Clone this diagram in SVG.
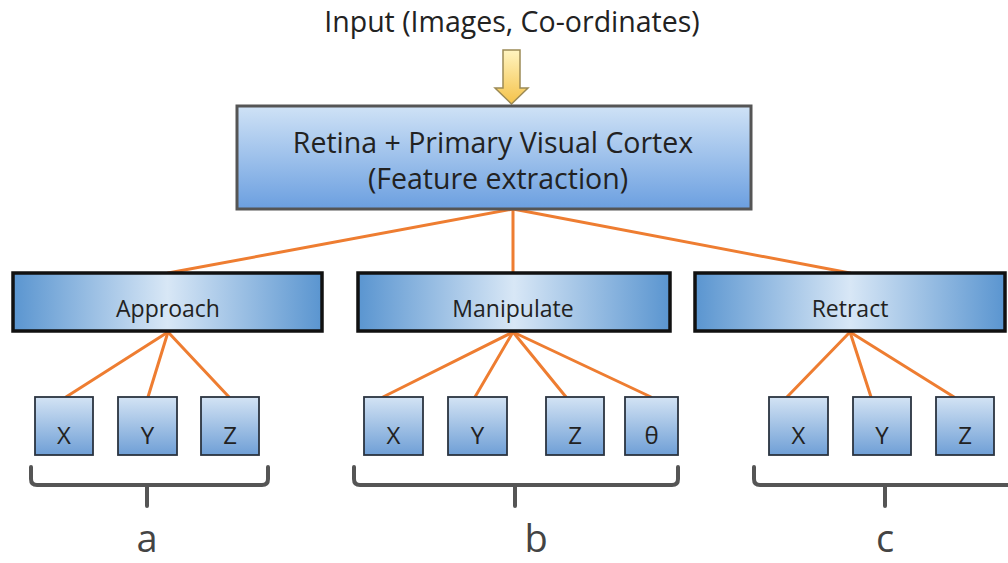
<svg xmlns="http://www.w3.org/2000/svg" width="1008" height="563" viewBox="0 0 1008 563">
<defs>
<linearGradient id="gTop" x1="0" y1="0" x2="0" y2="1">
<stop offset="0" stop-color="#cfe2f6"/><stop offset="1" stop-color="#6b9fe0"/>
</linearGradient>
<linearGradient id="gMid" x1="0" y1="0" x2="1" y2="0">
<stop offset="0" stop-color="#5a95d0"/><stop offset="0.5" stop-color="#d8e7f6"/><stop offset="1" stop-color="#5a95d0"/>
</linearGradient>
<linearGradient id="gSmall" x1="0" y1="0" x2="0" y2="1">
<stop offset="0" stop-color="#d3e3f4"/><stop offset="1" stop-color="#6f9fd6"/>
</linearGradient>
<linearGradient id="gArrow" x1="0" y1="0" x2="0" y2="1">
<stop offset="0" stop-color="#fff4c0"/><stop offset="1" stop-color="#f4c24a"/>
</linearGradient>
<style>
text{font-family:"Open Sans","Liberation Sans",sans-serif;fill:#222;text-anchor:middle}
.top{fill:url(#gTop);stroke:#555;stroke-width:3}
.mid{fill:url(#gMid);stroke:#111;stroke-width:3.5}
.sm{fill:url(#gSmall);stroke:#2b3440;stroke-width:1.8}
.con line{stroke:#ee7d31;stroke-width:3;stroke-linecap:round}
.brace{fill:none;stroke:#555;stroke-width:4;stroke-linecap:round}
.lbl{font-size:38px;fill:#444}
.big{font-size:28.5px}
.t24{font-size:24px}
.t23{font-size:23px}
</style>
</defs>
<text class="big" x="512" y="32">Input (Images, Co-ordinates)</text>
<path d="M503,50 H520 V88 H528 L511.5,104 L495,88 H503 Z" fill="url(#gArrow)" stroke="#9c8a55" stroke-width="1.5"/>
<g class="con">
<line x1="513" y1="209" x2="168" y2="273"/>
<line x1="513" y1="209" x2="513" y2="273"/>
<line x1="513" y1="209" x2="850" y2="273"/>
<line x1="168" y1="332" x2="66" y2="397"/>
<line x1="168" y1="332" x2="148" y2="397"/>
<line x1="168" y1="332" x2="229" y2="397"/>
<line x1="513" y1="332" x2="383" y2="397"/>
<line x1="513" y1="332" x2="475" y2="397"/>
<line x1="513" y1="332" x2="566" y2="397"/>
<line x1="513" y1="332" x2="651" y2="397"/>
<line x1="850" y1="332" x2="787" y2="397"/>
<line x1="850" y1="332" x2="871" y2="397"/>
<line x1="850" y1="332" x2="954" y2="397"/>
</g>
<g id="retina">
<rect class="top" x="237" y="106" width="514" height="103"/>
<text class="big" x="493" y="153">Retina + Primary Visual Cortex</text>
<text class="big" x="498" y="189">(Feature extraction)</text>
</g>
<g id="approach"><rect class="mid" x="13" y="273" width="309" height="58"/><text class="t23" x="168" y="317">Approach</text></g>
<g id="manipulate"><rect class="mid" x="358" y="273" width="312" height="58"/><text class="t23" x="513" y="317">Manipulate</text></g>
<g id="retract"><rect class="mid" x="695" y="273" width="310" height="58"/><text class="t23" x="850" y="317">Retract</text></g>
<g id="a-x"><rect class="sm" x="35" y="397" width="58" height="58"/><text class="t24" x="64" y="444">X</text></g>
<g id="a-y"><rect class="sm" x="118" y="397" width="59" height="58"/><text class="t24" x="147.5" y="444">Y</text></g>
<g id="a-z"><rect class="sm" x="201" y="397" width="58" height="58"/><text class="t24" x="230" y="444">Z</text></g>
<g id="b-x"><rect class="sm" x="364" y="397" width="59" height="58"/><text class="t24" x="393.5" y="444">X</text></g>
<g id="b-y"><rect class="sm" x="448" y="397" width="59" height="58"/><text class="t24" x="477.5" y="444">Y</text></g>
<g id="b-z"><rect class="sm" x="546" y="397" width="58" height="58"/><text class="t24" x="575" y="444">Z</text></g>
<g id="b-t"><rect class="sm" x="625" y="397" width="53" height="58"/><text class="t24" x="651.5" y="444">θ</text></g>
<g id="c-x"><rect class="sm" x="769" y="397" width="59" height="58"/><text class="t24" x="798.5" y="444">X</text></g>
<g id="c-y"><rect class="sm" x="853" y="397" width="58" height="58"/><text class="t24" x="882" y="444">Y</text></g>
<g id="c-z"><rect class="sm" x="936" y="397" width="58" height="58"/><text class="t24" x="965" y="444">Z</text></g>
<g id="braces">
<path class="brace" d="M31,467 V479 Q31,485 37,485 H262 Q268,485 268,479 V467 M147,485 V506"/>
<path class="brace" d="M354,467 V479 Q354,485 360,485 H672 Q678,485 678,479 V467 M515,485 V506"/>
<path class="brace" d="M754,467 V479 Q754,485 760,485 H1010 M885,485 V506"/>
</g>
<text class="lbl" x="147" y="552">a</text>
<text class="lbl" x="536" y="552">b</text>
<text class="lbl" x="885" y="552">c</text>
</svg>
